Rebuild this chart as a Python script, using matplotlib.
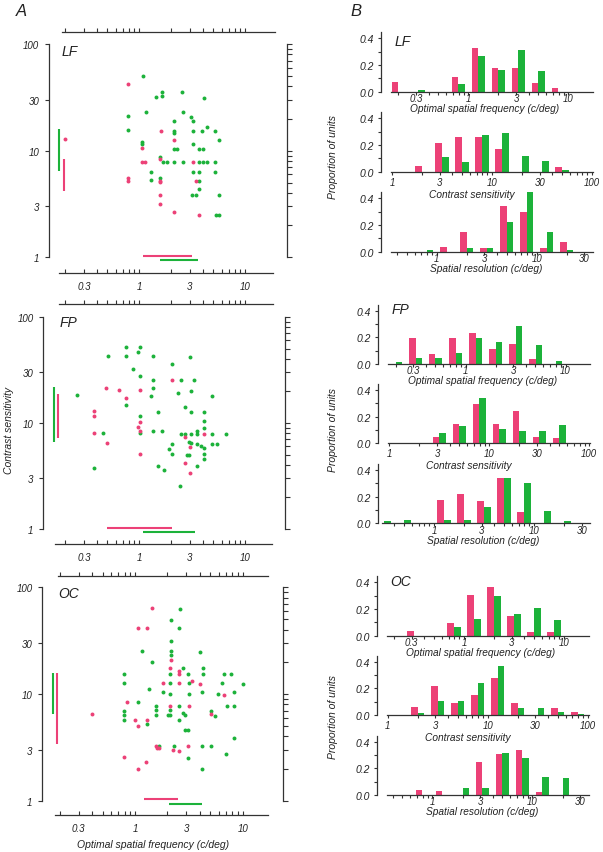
import numpy as np
import matplotlib
matplotlib.use('Agg')
import matplotlib.pyplot as plt
from matplotlib.ticker import NullFormatter, NullLocator

plt.rcParams['font.family'] = ['Liberation Sans', 'DejaVu Sans']
plt.rcParams['font.style'] = 'italic'
plt.rcParams['text.color'] = '#222222'
plt.rcParams['axes.edgecolor'] = '#333333'
plt.rcParams['xtick.color'] = '#333333'
plt.rcParams['ytick.color'] = '#333333'
plt.rcParams['xtick.labelcolor'] = '#222222'
plt.rcParams['ytick.labelcolor'] = '#222222'

RED = '#ec4177'
GREEN = '#1cb23a'

# ---------------- A: optimal spatial frequency vs contrast sensitivity ----------------
lf_green_sf = [1.09, 0.79, 0.79, 1.15, 1.43, 1.63, 1.63, 2.52, 4.09, 2.61, 3.06, 3.2, 2.14, 2.14,
               2.14, 3.2, 3.89, 4.34, 5.2, 5.71, 1.07, 1.07, 3.2, 2.14, 2.29, 3.67, 4.03, 1.57,
               1.69, 1.81, 2.14, 2.57, 3.67, 3.98, 4.34, 5.2, 1.29, 1.28, 1.57, 3.2, 3.67, 5.2,
               3.67, 3.67, 3.13, 3.41, 5.71, 5.28, 5.67]
lf_green_cs = [49.8, 21.0, 15.6, 22.9, 31.6, 35.2, 32.8, 35.2, 31.2, 22.9, 20.8, 18.8, 19.0, 15.4,
               14.5, 15.4, 15.4, 16.6, 15.4, 12.5, 12.1, 11.6, 11.5, 10.4, 10.4, 10.4, 10.4, 8.7,
               7.8, 7.8, 7.8, 7.8, 7.8, 7.8, 7.8, 7.8, 6.35, 5.3, 5.6, 6.3, 6.3, 6.3,
               5.2, 4.34, 3.87, 3.87, 3.87, 2.49, 2.49]
lf_red_sf = [0.79, 0.2, 1.6, 1.07, 1.05, 1.13, 1.57, 2.14, 3.2, 0.79, 0.79, 1.57, 1.57, 3.41,
             1.57, 1.57, 2.14, 3.67]
lf_red_cs = [41.9, 12.9, 15.4, 10.5, 7.8, 7.8, 8.35, 12.7, 7.8, 5.6, 5.2, 5.2, 5.05, 5.2,
             3.87, 3.16, 2.64, 2.51]

fp_green_sf = [0.748, 1.02, 0.51, 0.748, 0.964, 1.34, 2.05, 3.02, 0.877, 1.02, 1.34, 2.48, 3.29,
               1.34, 3.06, 1.28, 0.255, 2.34, 4.91, 0.748, 2.71, 1.51, 3.06, 4.09, 4.09, 4.09,
               1.02, 1.34, 1.63, 1.02, 0.45, 2.48, 2.71, 3.06, 3.49, 3.49, 4.91, 6.61, 2.93,
               3.06, 3.49, 2.02, 3.80, 4.09, 4.09, 4.09, 4.91, 5.47, 1.92, 2.02, 2.81, 2.93,
               3.49, 1.51, 1.71, 0.375, 2.43]
fp_green_cs = [51.4, 51.4, 42.3, 42.3, 46.8, 42.3, 35.8, 42.0, 32.1, 27.8, 25.5, 25.5, 25.5,
               21.1, 20.1, 18.0, 18.3, 19.1, 17.8, 14.7, 14.0, 12.7, 12.6, 12.6, 10.5, 8.94,
               11.7, 8.44, 8.44, 7.95, 7.96, 7.85, 7.85, 7.85, 8.32, 7.85, 7.85, 7.85, 6.65,
               6.46, 6.32, 6.32, 6.0, 5.75, 5.1, 4.56, 6.32, 6.32, 5.67, 5.1, 5.01, 5.01,
               3.95, 3.95, 3.59, 3.73, 2.52]
fp_red_sf = [0.484, 0.642, 1.02, 0.748, 2.05, 0.375, 0.375, 1.02, 0.964, 1.02, 0.375, 2.71,
             4.09, 0.50, 3.02, 1.02, 2.71, 3.02]
fp_red_cs = [21.3, 20.3, 20.3, 17.0, 25.5, 12.9, 11.5, 10.1, 9.07, 8.44, 7.96, 7.41,
             7.85, 6.46, 5.92, 5.1, 4.21, 3.34]

oc_green_sf = [2.14, 1.15, 2.14, 2.14, 3.99, 1.45, 2.79, 4.25, 0.796, 2.13, 3.13, 4.25, 6.66,
               7.85, 0.796, 2.13, 3.15, 6.38, 10.07, 1.35, 1.81, 2.13, 3.15, 4.22, 5.94, 8.31,
               1.06, 1.58, 1.58, 1.58, 2.13, 2.55, 2.01, 2.13, 2.79, 2.93, 5.05, 5.53, 7.10,
               8.37, 0.796, 0.796, 0.796, 2.55, 1.28, 2.91, 3.11, 8.31, 1.68, 2.32, 4.22,
               5.05, 7.05, 3.11, 4.19, 2.62, 2.16, 2.58]
oc_green_cs = [31.6, 25.1, 25.1, 23.2, 24.9, 20.1, 17.7, 17.7, 15.5, 15.5, 15.5, 15.5, 15.4,
               15.4, 12.8, 12.7, 12.7, 12.6, 12.4, 11.2, 10.5, 10.1, 10.1, 10.4, 9.9, 10.4,
               8.41, 7.78, 7.08, 6.31, 7.08, 7.78, 6.31, 6.31, 6.64, 6.31, 6.88, 6.22, 7.66,
               7.66, 6.98, 6.31, 5.7, 5.66, 5.23, 4.56, 4.56, 3.84, 3.28, 3.28, 3.28,
               3.28, 2.72, 2.51, 1.98, 62.6, 49.7, 41.6]
oc_red_sf = [1.43, 1.07, 1.29, 2.14, 2.13, 2.56, 2.56, 3.36, 1.82, 2.56, 4.05, 6.71, 0.849,
             2.13, 3.15, 5.05, 1.01, 1.28, 1.06, 1.56, 1.59, 1.67, 3.11, 2.27, 2.55, 0.785,
             1.26, 1.06, 0.402]
oc_red_cs = [63.6, 41.6, 41.6, 21.0, 17.7, 16.4, 15.5, 13.1, 12.7, 12.6, 12.4, 9.86, 8.41,
             7.78, 7.78, 6.49, 5.66, 5.66, 5.01, 3.28, 3.14, 3.14, 3.28, 3.01, 2.92, 2.55,
             2.29, 1.97, 6.45]

# range bars (contrast sensitivity / spatial frequency), (low, high)
lf_cs_range = {'green': (6.4, 15.9), 'red': (4.2, 8.3)}
lf_sf_range = {'red': (1.075, 3.13), 'green': (1.57, 3.62)}
fp_cs_range = {'green': (6.55, 21.6), 'red': (7.14, 18.7)}
fp_sf_range = {'red': (0.50, 2.02), 'green': (1.075, 3.36)}
oc_cs_range = {'green': (6.5, 15.7), 'red': (3.4, 15.7)}
oc_sf_range = {'red': (1.21, 2.53), 'green': (2.08, 4.16)}

# ---------------- B: histograms (proportion of units) ----------------
sf_bins = [0.2, 0.316, 0.5, 0.794, 1.26, 2.0, 3.16, 5.01, 7.94]
cs_bins = [2.0, 3.16, 5.01, 7.94, 12.6, 20.0, 31.6, 50.1, 79.4]
sr_bins = [0.316, 0.5, 0.794, 1.26, 2.0, 3.16, 5.01, 7.94, 12.6, 20.0]

lf_sf_red = [0.075, 0, 0, 0.108, 0.328, 0.178, 0.178, 0.065, 0.028]
lf_sf_green = [0, 0.015, 0, 0.058, 0.265, 0.163, 0.31, 0.158, 0]
lf_cs_red = [0.045, 0.215, 0.258, 0.258, 0.17, 0, 0, 0.033, 0]
lf_cs_green = [0, 0.108, 0.07, 0.275, 0.29, 0.12, 0.083, 0.01, 0]
lf_sr_red = [0, 0, 0, 0.033, 0.15, 0.03, 0.34, 0.30, 0.03, 0.07]
lf_sr_green = [0, 0, 0.015, 0, 0.03, 0.03, 0.22, 0.50, 0.15, 0.01]

fp_sf_red = [0, 0.195, 0.078, 0.193, 0.23, 0.113, 0.15, 0.035, 0]
fp_sf_green = [0.018, 0.043, 0.043, 0.08, 0.195, 0.168, 0.283, 0.14, 0.02]
fp_cs_red = [0, 0.05, 0.148, 0.295, 0.143, 0.243, 0.045, 0.043, 0]
fp_cs_green = [0, 0.08, 0.128, 0.338, 0.108, 0.093, 0.09, 0.138, 0]
fp_sr_red = [0, 0, 0, 0.175, 0.218, 0.17, 0.343, 0.083, 0, 0]
fp_sr_green = [0.018, 0.028, 0, 0.028, 0.023, 0.12, 0.343, 0.30, 0.09, 0.02]

oc_sf_red = [0, 0.035, 0, 0.093, 0.305, 0.363, 0.148, 0.025, 0.025]
oc_sf_green = [0, 0, 0, 0.068, 0.123, 0.295, 0.16, 0.21, 0.118]
oc_cs_red = [0.063, 0.218, 0.09, 0.153, 0.275, 0.088, 0, 0.053, 0.023]
oc_cs_green = [0.015, 0.103, 0.103, 0.238, 0.368, 0.053, 0.053, 0.02, 0.008]
oc_sr_red = [0, 0, 0.035, 0.033, 0, 0.245, 0.305, 0.335, 0.023, 0]
oc_sr_green = [0, 0, 0, 0, 0.053, 0.05, 0.318, 0.275, 0.133, 0.13]

W, H = 603, 853
fig = plt.figure(figsize=(W / 100, H / 100), dpi=100)


def px_axes(left, top, right, bottom):
    return fig.add_axes([left / W, 1 - bottom / H, (right - left) / W, (bottom - top) / H])


def fig_text(x, y, s, **kw):
    fig.text(x / W, 1 - y / H, s, **kw)


SF_MAJOR = [0.3, 1, 3, 10]
SF_MINOR = [0.2, 0.4, 0.5, 0.6, 0.7, 0.8, 0.9, 2, 4, 5, 6, 7, 8, 9]
ALL_CS = [v * 10 ** d for d in range(2) for v in range(1, 10)] + [100]


def scatter_panel(g, name, red_sf, red_cs, green_sf, green_cs, cs_rng, sf_rng):
    left, right, top, bottom, x1, dec = g['box']
    ax = px_axes(left, top, right, bottom)
    ax.set_xscale('log')
    ax.set_yscale('log')
    tolog = lambda p: 10 ** ((p - x1) / dec)
    ax.set_xlim(tolog(left), tolog(right))
    ax.set_ylim(1, 100)
    ax.patch.set_visible(False)

    ax.scatter(green_sf, green_cs, s=8, color=GREEN, linewidths=0, zorder=3, clip_on=False)
    ax.scatter(red_sf, red_cs, s=8, color=RED, linewidths=0, zorder=3, clip_on=False)

    vt = ax.get_yaxis_transform()
    ht = ax.get_xaxis_transform()
    for key, col, xa in (('green', GREEN, 0.044), ('red', RED, 0.062)):
        ax.plot([xa, xa], cs_rng[key], color=col, lw=1.5, transform=vt,
                solid_capstyle='butt', clip_on=False)
    for key, col, ya in (('red', RED, 0.007), ('green', GREEN, -0.015)):
        ax.plot(sf_rng[key], [ya, ya], color=col, lw=1.5, transform=ht,
                solid_capstyle='butt', clip_on=False)

    h = bottom - top
    for s in ('top', 'right'):
        ax.spines[s].set_visible(False)
    ax.spines['left'].set_bounds(1, 100)
    ax.spines['bottom'].set_position(('axes', -(g['bline'] - bottom) / h))
    ax.spines['bottom'].set_bounds(tolog(g['bb'][0]), tolog(g['bb'][1]))
    for s in ax.spines.values():
        s.set_linewidth(0.9)

    ax.set_xticks(SF_MAJOR, ['0.3', '1', '3', '10'])
    ax.set_xticks(SF_MINOR, minor=True)
    ax.xaxis.set_minor_formatter(NullFormatter())
    ax.set_yticks([1, 3, 10, 30, 100], ['1', '3', '10', '30', '100'])
    ax.yaxis.set_minor_locator(NullLocator())
    ax.tick_params(axis='x', which='both', direction='in', length=3, width=0.8,
                   labelsize=7, pad=5.5)
    ax.tick_params(axis='y', which='both', direction='out', length=3, width=0.8,
                   labelsize=7, pad=4)

    # right-hand axis with all log ticks
    axr = ax.twinx()
    axr.set_yscale('log')
    axr.set_ylim(1, 100)
    for s in ('top', 'left', 'bottom'):
        axr.spines[s].set_visible(False)
    axr.spines['right'].set_bounds(1, 100)
    axr.spines['right'].set_linewidth(0.9)
    axr.set_yticks(ALL_CS)
    axr.yaxis.set_minor_locator(NullLocator())
    axr.yaxis.set_major_formatter(NullFormatter())
    axr.tick_params(axis='y', direction='out', length=3.5, width=0.8)

    # top frequency axis
    axt = ax.twiny()
    axt.set_xscale('log')
    axt.set_xlim(tolog(left), tolog(right))
    for s in ('bottom', 'left', 'right'):
        axt.spines[s].set_visible(False)
    axt.spines['top'].set_position(('axes', 1 + (top - g['tline']) / h))
    axt.spines['top'].set_bounds(tolog(g['tb'][0]), tolog(g['tb'][1]))
    axt.spines['top'].set_linewidth(0.9)
    axt.set_xticks(SF_MAJOR)
    axt.set_xticks(SF_MINOR, minor=True)
    axt.xaxis.set_major_formatter(NullFormatter())
    axt.xaxis.set_minor_formatter(NullFormatter())
    axt.tick_params(axis='x', which='both', direction='out', length=3, width=0.8)

    fig_text(g['label'][0], g['label'][1], name, fontsize=10, ha='left', va='center')
    return ax


scatter_geo = {
    'LF': dict(box=(49, 287, 45, 258.3, 139.3, 105.7), bline=274, tline=33.3,
               bb=(59.3, 273), tb=(62, 275), label=(62, 52)),
    'FP': dict(box=(43.3, 285, 317.7, 530, 139.3, 105.7), bline=545, tline=305,
               bb=(55, 271.7), tb=(59.3, 272.7), label=(60, 323)),
    'OC': dict(box=(42.3, 283.3, 588.3, 801.7, 135, 107.7), bline=816, tline=576.7,
               bb=(55, 268.3), tb=(58.3, 268.3), label=(58, 594)),
}

scatter_panel(scatter_geo['LF'], 'LF', lf_red_sf, lf_red_cs, lf_green_sf, lf_green_cs,
              lf_cs_range, lf_sf_range)
scatter_panel(scatter_geo['FP'], 'FP', fp_red_sf, fp_red_cs, fp_green_sf, fp_green_cs,
              fp_cs_range, fp_sf_range)
scatter_panel(scatter_geo['OC'], 'OC', oc_red_sf, oc_red_cs, oc_green_sf, oc_green_cs,
              oc_cs_range, oc_sf_range)

fig_text(9, 430, 'Contrast sensitivity', fontsize=7.5, rotation=90, ha='center', va='center')
fig_text(153, 845, 'Optimal spatial frequency (c/deg)', fontsize=7.5, ha='center', va='center')

# ---------------- histograms ----------------
HIST_W = 212
HIST_KINDS = {
    'sf': dict(one=87.3, bins=sf_bins, major=[0.3, 1, 3, 10], labels=['0.3', '1', '3', '10'],
               minor=[0.2, 0.4, 0.5, 0.6, 0.7, 0.8, 0.9, 2, 4, 5, 6, 7, 8, 9],
               xlabel='Optimal spatial frequency (c/deg)', dx=104, dy=16.5, pad=-1.5),
    'cs': dict(one=11, bins=cs_bins, major=[1, 3, 10, 30, 100], labels=['1', '3', '10', '30', '100'],
               minor=[2, 4, 5, 6, 7, 8, 9, 20, 40, 50, 60, 70, 80, 90],
               xlabel='Contrast sensitivity', dx=91, dy=22, pad=1.2),
    'sr': dict(one=55.7, bins=sr_bins, major=[1, 3, 10, 30], labels=['1', '3', '10', '30'],
               minor=[0.4, 0.5, 0.6, 0.7, 0.8, 0.9, 2, 4, 5, 6, 7, 8, 9, 20],
               xlabel='Spatial resolution (c/deg)', dx=105, dy=16.5, pad=-1.5),
}


def hist_panel(left, y0, kind, red, green, gap=10):
    k = HIST_KINDS[kind]
    top = y0 - 0.445 * 133.3
    ax = px_axes(left, top, left + HIST_W, y0)
    ax.set_xscale('log')
    lo = 10 ** (-k['one'] / 100)
    hi = 10 ** ((HIST_W - k['one']) / 100)
    ax.set_xlim(lo, hi)
    ax.set_ylim(0, 0.445)
    ax.patch.set_visible(False)

    c = np.array(k['bins'])
    w = 10 ** (0.2 / 3)
    ax.bar(c / w, red, width=c - c / w, align='edge', color=RED, linewidth=0)
    ax.bar(c, green, width=c * w - c, align='edge', color=GREEN, linewidth=0)

    for s in ('top', 'right'):
        ax.spines[s].set_visible(False)
    ax.spines['bottom'].set_bounds(10 ** ((gap - k['one']) / 100), hi)
    ax.spines['left'].set_bounds(0, 0.445)
    for s in ax.spines.values():
        s.set_linewidth(0.9)

    ax.set_xticks(k['major'], k['labels'])
    ax.set_xticks(k['minor'], minor=True)
    ax.xaxis.set_minor_formatter(NullFormatter())
    ax.set_yticks([0, 0.1, 0.2, 0.3, 0.4], ['0.0', '', '0.2', '', '0.4'])
    ax.tick_params(axis='x', which='both', direction='out', length=2.5, width=0.8,
                   labelsize=6.9, pad=k['pad'])
    ax.tick_params(axis='y', direction='out', length=2.5, width=0.8, labelsize=7.5, pad=2.5)

    fig_text(left + k['dx'], y0 + k['dy'], k['xlabel'], fontsize=7.3, ha='center', va='center')
    return ax


hist_geo = {'LF': (381, [92.7, 172.7, 252.7], (395, 42), 157),
            'FP': (378.3, [365, 444.3, 524.3], (392, 310), 430),
            'OC': (376.7, [636.7, 716, 796], (390, 582), 717)}

hist_data = {'LF': [(lf_sf_red, lf_sf_green), (lf_cs_red, lf_cs_green), (lf_sr_red, lf_sr_green)],
             'FP': [(fp_sf_red, fp_sf_green), (fp_cs_red, fp_cs_green), (fp_sr_red, fp_sr_green)],
             'OC': [(oc_sf_red, oc_sf_green), (oc_cs_red, oc_cs_green), (oc_sr_red, oc_sr_green)]}

for name in ('LF', 'FP', 'OC'):
    left, y0s, lab, ylab = hist_geo[name]
    for kind, y0, (r, gr) in zip(('sf', 'cs', 'sr'), y0s, hist_data[name]):
        gap = 4 if (name == 'FP' and kind == 'sr') else 10
        hist_panel(left, y0, kind, r, gr, gap=gap)
    fig_text(lab[0], lab[1], name, fontsize=10, ha='left', va='center')
    fig_text(333, ylab, 'Proportion of units', fontsize=7.5, rotation=90, ha='center', va='center')

fig_text(21, 11, 'A', fontsize=12, ha='center', va='center')
fig_text(356, 12, 'B', fontsize=12, ha='center', va='center')

fig.savefig('out.png', dpi=100)
